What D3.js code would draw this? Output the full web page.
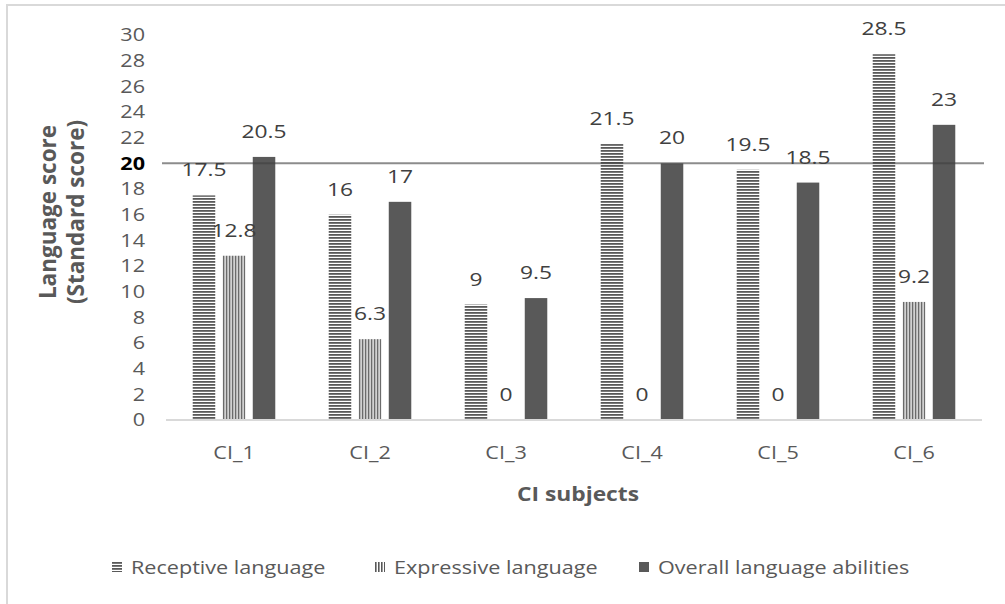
<!DOCTYPE html>
<html>
<head>
<meta charset="utf-8">
<script src="https://cdn.jsdelivr.net/npm/d3@7"></script>
<style>
  html, body { margin: 0; padding: 0; background: #fff; }
  svg { display: block; font-family: "Open Sans", "Liberation Sans", sans-serif; }
</style>
</head>
<body>
<svg id="chart" width="1005" height="604"></svg>
<script>
// Language scores of six cochlear-implant subjects
const categories = ["CI_1", "CI_2", "CI_3", "CI_4", "CI_5", "CI_6"];
const seriesNames = ["Receptive language", "Expressive language", "Overall language abilities"];
const receptive = [17.5, 16, 9, 21.5, 19.5, 28.5];
const expressive = [12.8, 6.3, 0, 0, 0, 9.2];
const overall = [20.5, 17, 9.5, 20, 18.5, 23];
const yTicks = [0, 2, 4, 6, 8, 10, 12, 14, 16, 18, 20, 22, 24, 26, 28, 30];
const referenceScore = 20;

const seriesValues = [receptive, expressive, overall];
const rows = categories.map((c, i) => ({
  category: c,
  values: seriesNames.map((s, k) => ({ series: s, k, value: seriesValues[k][i] }))
}));

const svg = d3.select("#chart");
const W = 1005, H = 604;
const plot = { left: 166, right: 982, top: 35, bottom: 420 };
const SX = 1.2; // horizontal widening of the text face

// place a text at (x, y), widened horizontally
const at = (x, y) => `translate(${x},${y}) scale(${SX},1)`;

// chart frame
svg.append("path")
  .attr("d", `M7,${H} L7,5 L${W},5`)
  .attr("fill", "none").attr("stroke", "#d9d9d9").attr("stroke-width", 2);

// fill patterns
const defs = svg.append("defs");
const horiz = defs.append("pattern").attr("id", "pat-horiz")
  .attr("patternUnits", "userSpaceOnUse").attr("width", 6).attr("height", 3);
horiz.append("rect").attr("width", 6).attr("height", 3).attr("fill", "#fff");
horiz.append("rect").attr("width", 6).attr("height", 1.8).attr("fill", "#595959");
const vert = defs.append("pattern").attr("id", "pat-vert")
  .attr("patternUnits", "userSpaceOnUse").attr("width", 3).attr("height", 6);
vert.append("rect").attr("width", 3).attr("height", 6).attr("fill", "#fff");
vert.append("rect").attr("width", 1.6).attr("height", 6).attr("fill", "#595959");
const fills = ["url(#pat-horiz)", "url(#pat-vert)", "#595959"];

const x0 = d3.scaleBand().domain(categories)
  .range([plot.left, plot.right]).paddingInner(0.393).paddingOuter(0.1965);
const x1 = d3.scaleBand().domain(seriesNames)
  .range([0, x0.bandwidth()]).paddingInner(0.25);
const y = d3.scaleLinear().domain([0, 30]).range([plot.bottom, plot.top]);

// y axis labels
svg.append("g").selectAll("text").data(yTicks).join("text")
  .attr("transform", d => at(145, y(d)))
  .attr("dy", "0.36em")
  .attr("text-anchor", "end")
  .attr("font-size", 18)
  .attr("fill", d => d === referenceScore ? "#000" : "#595959")
  .attr("font-weight", d => d === referenceScore ? "bold" : "normal")
  .text(d => d);

// bars
const groups = svg.append("g").selectAll("g").data(rows).join("g")
  .attr("transform", d => `translate(${x0(d.category)},0)`);
groups.selectAll("rect").data(d => d.values).join("rect")
  .attr("x", d => x1(d.series))
  .attr("width", x1.bandwidth())
  .attr("y", d => y(d.value))
  .attr("height", d => y(0) - y(d.value))
  .attr("fill", d => fills[d.k]);

// value labels
groups.selectAll("text").data(d => d.values).join("text")
  .attr("transform", d => at(x1(d.series) + x1.bandwidth() / 2, y(d.value) - 19))
  .attr("text-anchor", "middle")
  .attr("font-size", 19).attr("fill", "#404040")
  .text(d => d3.format("~g")(d.value));

// x axis line and category labels
svg.append("line")
  .attr("x1", plot.left).attr("x2", plot.right)
  .attr("y1", plot.bottom).attr("y2", plot.bottom)
  .attr("stroke", "#d9d9d9").attr("stroke-width", 2);
svg.append("g").selectAll("text").data(categories).join("text")
  .attr("transform", d => at(x0(d) + x0.bandwidth() / 2, 453))
  .attr("dy", "0.36em")
  .attr("text-anchor", "middle")
  .attr("font-size", 18).attr("fill", "#595959")
  .text(d => d);

// reference line at the standard score
svg.append("line")
  .attr("x1", 162).attr("x2", 984)
  .attr("y1", y(referenceScore)).attr("y2", y(referenceScore))
  .attr("stroke", "#404040").attr("stroke-opacity", 0.6).attr("stroke-width", 2);

// axis titles
svg.append("text")
  .attr("transform", at(578, 501))
  .attr("text-anchor", "middle").attr("font-size", 19).attr("font-weight", "bold")
  .attr("fill", "#595959").text("CI subjects");

const yTitle = svg.append("text")
  .attr("transform", "translate(56,212) rotate(-90)")
  .attr("text-anchor", "middle").attr("font-size", 22.5).attr("font-weight", "bold")
  .attr("fill", "#595959");
yTitle.append("tspan").attr("x", 0).attr("dy", 0).text("Language score");
yTitle.append("tspan").attr("x", 0).attr("dy", 28).text("(Standard score)");

// legend
const legendStarts = [112, 375, 639];
const items = svg.append("g").selectAll("g").data(seriesNames).join("g")
  .attr("transform", (d, i) => `translate(${legendStarts[i]},568)`);
items.append("rect").attr("width", 10).attr("height", 10).attr("y", -6)
  .attr("fill", (d, i) => fills[i]);
items.append("text")
  .attr("transform", at(19, 0))
  .attr("dy", "0.36em")
  .attr("font-size", 18).attr("fill", "#595959").text(d => d);
</script>
</body>
</html>
